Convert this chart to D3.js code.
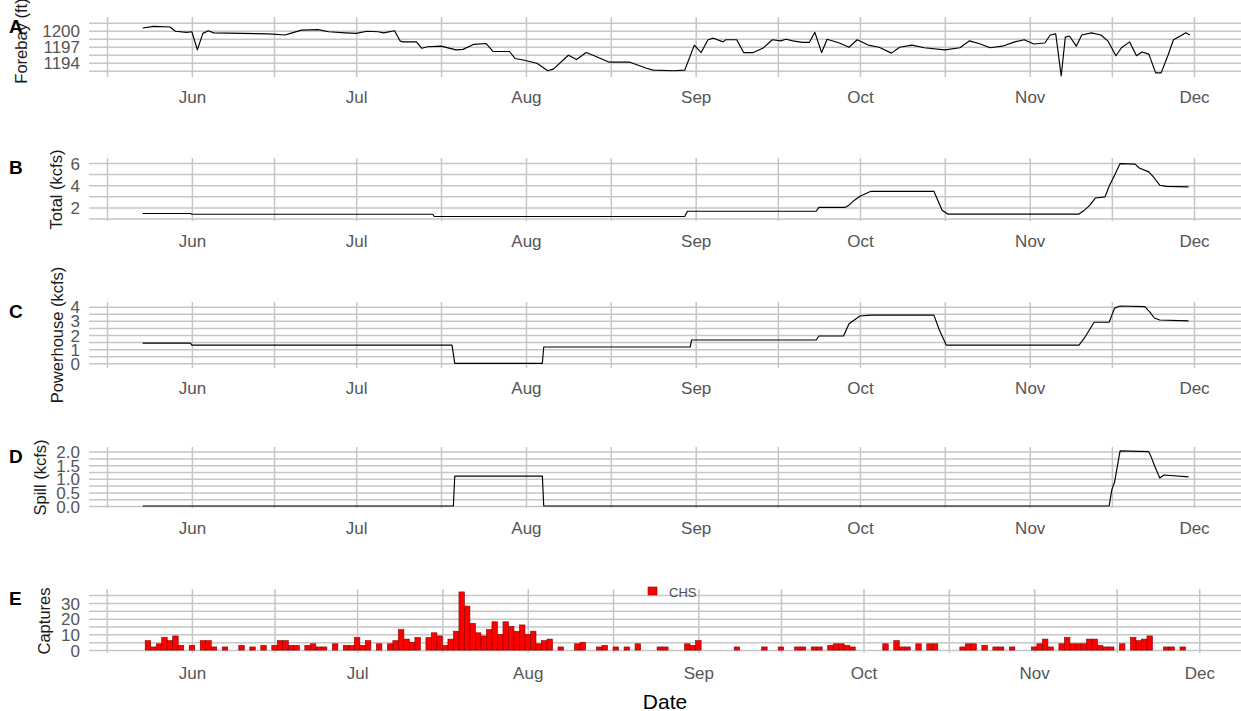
<!DOCTYPE html>
<html><head><meta charset="utf-8">
<script src="https://cdn.jsdelivr.net/npm/d3@7"></script>
<style>
body{margin:0;background:#fff}
svg{display:block}
text{font-family:"Liberation Sans",Arial,sans-serif}
</style>
</head><body>
<svg id="c" width="1241" height="711"></svg>
<script>
// ---------------- DATA ----------------
const monthTickDates = ["06-01","07-01","08-01","09-01","10-01","11-01","12-01"];
const monthTickLabels = ["Jun","Jul","Aug","Sep","Oct","Nov","Dec"];

const forebayTicks = [1194, 1197, 1200];
const totalTicks = [2, 4, 6];
const powerhouseTicks = [0, 1, 2, 3, 4];
const spillTicks = [0, 0.5, 1.0, 1.5, 2.0];
const captureTicks = [0, 10, 20, 30];

const forebayDates = ["05-23","05-25","05-28","05-29","05-31","06-01","06-02","06-03","06-04","06-05","06-10","06-15","06-18","06-19","06-21","06-24","06-26","06-29","07-01","07-03","07-05","07-06","07-08","07-09","07-09 12","07-12","07-13","07-14","07-16 12","07-19 06","07-20 12","07-22 12","07-24 18","07-26","07-29","07-30","07-31 12","08-03","08-05","08-06","08-08 18","08-10 06","08-12","08-13 06","08-16 06","08-20","08-23","08-24 06","08-28","08-30","08-31 18","09-02","09-03 06","09-04 06","09-06","09-06 12","09-08 12","09-09 18","09-11 12","09-13 06","09-15","09-16 12","09-17 12","09-18 18","09-20 12","09-21 18","09-22 18","09-24","09-25","09-27 06","09-29","09-30 12","10-02 12","10-04 12","10-06 18","10-08 06","10-10 12","10-12 18","10-16 12","10-19 06","10-21","10-23","10-24 18","10-27","10-29 06","10-31","11-01 18","11-03 18","11-04 18","11-05 18","11-06 18","11-07 12","11-08 06","11-09 12","11-10 12","11-12 06","11-14","11-15 06","11-16 18","11-17 18","11-19 06","11-20 12","11-21 12","11-22 18","11-24","11-25","11-26 06","11-27 06","11-28 12","11-29 12","11-30 06"];
const forebayValues = [1200.5,1200.8,1200.7,1199.9,1199.7,1199.8,1196.4,1199.5,1200.0,1199.6,1199.5,1199.4,1199.2,1199.5,1200.1,1200.2,1199.8,1199.6,1199.5,1199.9,1199.8,1199.6,1200.0,1198.1,1197.9,1197.9,1196.7,1197.0,1197.1,1196.4,1196.5,1197.45,1197.6,1196.1,1196.1,1194.8,1194.5,1193.9,1192.5,1192.8,1195.4,1194.6,1195.9,1195.4,1194.1,1194.1,1192.95,1192.6,1192.5,1192.6,1197.3,1195.9,1198.3,1198.6,1197.9,1198.3,1198.3,1195.9,1195.9,1196.7,1198.3,1198.1,1198.4,1198.1,1197.8,1197.8,1199.7,1195.9,1198.4,1197.7,1196.9,1198.3,1197.3,1196.9,1195.8,1196.9,1197.3,1196.8,1196.4,1196.8,1198.1,1197.5,1196.8,1197.1,1197.9,1198.3,1197.5,1197.7,1199.2,1199.4,1191.5,1198.8,1199.0,1197.1,1199.2,1199.6,1199.2,1198.1,1195.3,1196.8,1197.9,1195.3,1196.0,1195.6,1192.1,1192.1,1195.4,1198.3,1199.0,1199.6,1199.2];

const totalDates = ["05-23","05-31 18","06-01","07-15","07-15 06","08-30","08-30 12","09-23","09-23 12","09-28 06","09-29","09-30","10-01","10-03","10-14 12","10-16","10-17","11-10","11-11","11-12","11-13","11-14 18","11-15 12","11-16 12","11-17 12","11-20 06","11-21","11-22 18","11-23 18","11-24 18","11-26","11-30"];
const totalValues = [1.45,1.45,1.38,1.38,1.18,1.18,1.65,1.65,2.0,2.0,2.2,2.65,3.0,3.45,3.45,1.75,1.4,1.4,1.75,2.2,2.85,2.95,3.9,4.9,5.95,5.9,5.55,5.2,4.65,4.0,3.9,3.85];

const powerhouseDates = ["05-23","05-31 18","06-01","07-18 12","07-19","08-04","08-04 06","08-31","08-31 06","09-23","09-23 12","09-28","09-29","10-01","10-03","10-14 12","10-15 12","10-16 18","11-10","11-11","11-12 18","11-15 12","11-16 12","11-17 12","11-22","11-23","11-23 18","11-24 18","11-30"];
const powerhouseValues = [1.43,1.43,1.29,1.29,0,0,1.15,1.15,1.65,1.65,1.93,1.93,2.8,3.34,3.4,3.4,2.35,1.29,1.29,1.79,2.9,2.9,3.9,4.05,4.0,3.6,3.2,3.06,3.0];

const spillDates = ["05-23","07-18 18","07-19","08-04","08-04 06","11-15 12","11-16","11-16 12","11-17 12","11-22 18","11-23 06","11-23 18","11-24 18","11-25 12","11-30"];
const spillValues = [0,0,1.1,1.1,0,0,0.6,0.88,2.03,2.0,1.77,1.5,1.03,1.14,1.07];

const captureDates = ["05-24","05-25","05-26","05-27","05-28","05-29","05-30","06-01","06-03","06-04","06-05","06-07","06-10","06-12","06-14","06-16","06-17","06-18","06-19","06-20","06-22","06-23","06-24","06-25","06-27","06-29","06-30","07-01","07-02","07-03","07-05","07-07","07-08","07-09","07-10","07-11","07-12","07-14","07-15","07-16","07-17","07-18","07-19","07-20","07-21","07-22","07-23","07-24","07-25","07-26","07-27","07-28","07-29","07-30","07-31","08-01","08-02","08-03","08-04","08-05","08-07","08-10","08-11","08-14","08-15","08-17","08-19","08-21","08-25","08-26","08-30","08-31","09-01","09-08","09-13","09-16","09-19","09-20","09-22","09-23","09-25","09-26","09-27","09-28","09-29","10-05","10-07","10-08","10-09","10-11","10-13","10-14","10-19","10-20","10-21","10-23","10-25","10-26","10-28","11-01","11-02","11-03","11-04","11-06","11-07","11-08","11-09","11-10","11-11","11-12","11-13","11-14","11-15","11-17","11-19","11-20","11-21","11-22","11-25","11-26","11-28"];
const captureCounts = [6,2,4,8,6,9,3,3,6,6,2,2,3,2,3,3,6,6,3,3,3,4,2,2,4,3,3,8,3,6,4,4,6,13,7,5,8,8,11,9,3,7,12,37,28,17,11,9,13,18,10,18,15,12,16,10,12,4,6,7,2,4,5,2,3,2,2,4,2,2,4,3,6,2,2,2,2,2,2,2,3,4,4,3,2,4,6,2,2,4,4,4,2,4,4,3,2,2,2,2,4,7,2,4,8,4,4,4,7,7,3,2,2,4,8,6,7,9,2,2,2];
const legendLabel = "CHS";

// ---------------- HELPERS ----------------
const YEAR = 2021;
function P(s){ const [md,h] = s.split(" "); const [m,d] = md.split("-").map(Number); return new Date(YEAR, m-1, d, h ? +h : 0); }
const svg = d3.select("#c");
const L = 89, R = 1241;
const GRID = "#c6c6c6", GRIDW = 1.5;
const TICKC = "#555", TICKF = 17;

const xMain = d3.scaleTime().domain([new Date(YEAR,4,13,5), new Date(YEAR,11,9,14)]).range([L,R]);
const xCap = d3.scaleTime().domain([new Date(YEAR,4,13,7), new Date(YEAR,11,8,14)]).range([L,R]);

const monthDates = monthTickDates.map(P);
function minorX(x){
  const [a,b] = x.domain();
  const starts = d3.timeMonth.range(d3.timeMonth.offset(d3.timeMonth.floor(a),-1), d3.timeMonth.offset(b,2));
  const mids = [];
  for(let i=0;i<starts.length-1;i++){ mids.push(new Date((+starts[i] + +starts[i+1])/2)); }
  return mids.filter(d => d>=a && d<=b);
}
function midsOf(ticks){
  const step = ticks[1]-ticks[0];
  const out = [];
  for(let i=0;i<ticks.length;i++){ out.push(ticks[i]-step/2); }
  out.push(ticks[ticks.length-1]+step/2);
  return out;
}

const panels = [
  {letter:"A", top:17, bottom:77, dom:[1191.32,1202.57], ticks:forebayTicks, fmt:d3.format("d"), title:"Forebay (ft)", tx:21, tdy:-6, x:xMain, dates:forebayDates, values:forebayValues},
  {letter:"B", top:158, bottom:221, dom:[0.775,6.45], ticks:totalTicks, fmt:d3.format("d"), title:"Total (kcfs)", tx:56, tdy:0, x:xMain, dates:totalDates, values:totalValues},
  {letter:"C", top:302, bottom:368, dom:[-0.33,4.33], ticks:powerhouseTicks, fmt:d3.format("d"), title:"Powerhouse (kcfs)", tx:57, tdy:0, x:xMain, dates:powerhouseDates, values:powerhouseValues},
  {letter:"D", top:447, bottom:508, dom:[-0.074,2.17], ticks:spillTicks, fmt:d3.format(".1f"), title:"Spill (kcfs)", tx:40, tdy:0, x:xMain, dates:spillDates, values:spillValues},
  {letter:"E", top:589, bottom:653, dom:[-1.85,38.85], ticks:captureTicks, fmt:d3.format("d"), title:"Captures", tx:44, tdy:0, x:xCap, bars:true}
];

panels.forEach(p => {
  const y = d3.scaleLinear().domain(p.dom).range([p.bottom, p.top]);
  const x = p.x;
  const g = svg.append("g");
  const inY = v => v >= p.dom[0] && v <= p.dom[1];
  const yGrid = midsOf(p.ticks).concat(p.ticks).filter(inY);
  const xGrid = minorX(x).concat(monthDates).filter(d => d>=x.domain()[0] && d<=x.domain()[1]);

  g.append("g").attr("transform",`translate(${L},0)`)
    .call(d3.axisLeft(y).tickValues(yGrid).tickSize(-(R-L)).tickFormat(""))
    .call(a => { a.select(".domain").remove(); a.selectAll("line").attr("stroke",GRID).attr("stroke-width",GRIDW); });
  g.append("g").attr("transform",`translate(0,${p.bottom})`)
    .call(d3.axisBottom(x).tickValues(xGrid).tickSize(-(p.bottom-p.top)).tickFormat(""))
    .call(a => { a.select(".domain").remove(); a.selectAll("line").attr("stroke",GRID).attr("stroke-width",GRIDW); });

  g.append("g").attr("transform",`translate(${L},0)`)
    .call(d3.axisLeft(y).tickValues(p.ticks).tickSize(0).tickPadding(9).tickFormat(p.fmt))
    .call(a => { a.select(".domain").remove(); a.selectAll("text").attr("fill",TICKC).style("font-size",TICKF+"px").attr("dy","0.36em"); });
  g.append("g").attr("transform",`translate(0,${p.bottom})`)
    .call(d3.axisBottom(x).tickValues(monthDates).tickSize(0).tickPadding(14).tickFormat((d,i)=>monthTickLabels[i]))
    .call(a => { a.select(".domain").remove(); a.selectAll("text").attr("fill",TICKC).style("font-size",TICKF+"px"); });

  if(p.bars){
    const dates = captureDates.map(P);
    g.append("g").selectAll("rect").data(dates).join("rect")
      .attr("x", (d) => x(d3.timeHour.offset(d,-12)))
      .attr("width", (d) => x(d3.timeHour.offset(d,12)) - x(d3.timeHour.offset(d,-12)))
      .attr("y", (d,i) => y(captureCounts[i]))
      .attr("height", (d,i) => y(0) - y(captureCounts[i]))
      .attr("fill","#ff0000").attr("stroke","#8b0000").attr("stroke-width",0.6);
  } else {
    const pts = p.dates.map((d,i) => [P(d), p.values[i]]);
    g.append("path").datum(pts)
      .attr("fill","none").attr("stroke","#000").attr("stroke-width",1.15).attr("stroke-linejoin","round")
      .attr("d", d3.line().x(d => x(d[0])).y(d => y(d[1])));
  }

  const cy = (p.top + p.bottom)/2 + p.tdy;
  g.append("text").attr("transform",`translate(${p.tx},${cy}) rotate(-90)`)
    .attr("text-anchor","middle").attr("dominant-baseline","central")
    .attr("fill","#1a1a1a").style("font-size","16.5px").text(p.title);
  g.append("text").attr("x",9).attr("y",p.top+16)
    .attr("fill","#000").style("font-size","19px").style("font-weight","bold").text(p.letter);
});

svg.append("rect").attr("x",648).attr("y",587).attr("width",9).attr("height",8)
  .attr("fill","#ff0000").attr("stroke","#8b0000").attr("stroke-width",0.6);
svg.append("text").attr("x",669).attr("y",592.5).attr("dominant-baseline","central")
  .attr("fill","#4d4d4d").style("font-size","13px").text(legendLabel);

svg.append("text").attr("x",(L+R)/2).attr("y",701).attr("text-anchor","middle").attr("dominant-baseline","central")
  .attr("fill","#000").style("font-size","21px").text("Date");
</script>
</body></html>
